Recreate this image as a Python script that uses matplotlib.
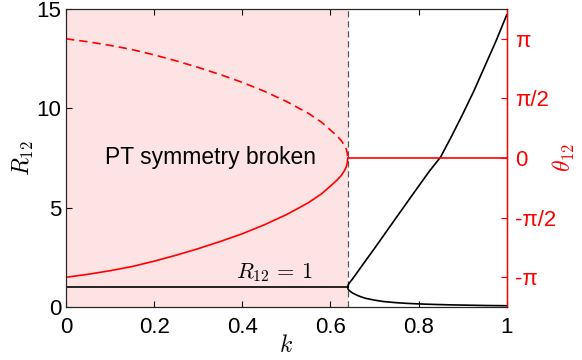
import numpy as np
import matplotlib.pyplot as plt

plt.rcParams['font.family'] = ['Liberation Sans', 'DejaVu Sans']
plt.rcParams['mathtext.fontset'] = 'cm'

# Data
k_c = 0.639

# phase branches (units of pi) in the broken region
k_theta = [0.0, 0.05, 0.1, 0.15, 0.2, 0.25, 0.3, 0.35, 0.4, 0.45, 0.5,
           0.55, 0.58, 0.6, 0.615, 0.625, 0.632, 0.636, 0.638, 0.6395]
theta_hi = [1.0, 0.975, 0.945, 0.91, 0.865, 0.815, 0.76, 0.70, 0.635, 0.56, 0.475,
            0.375, 0.30, 0.235, 0.185, 0.145, 0.105, 0.075, 0.045, 0.0]
theta_lo = [-1.0, -0.975, -0.945, -0.91, -0.865, -0.815, -0.76, -0.70, -0.635, -0.56, -0.475,
            -0.375, -0.30, -0.235, -0.185, -0.145, -0.105, -0.075, -0.045, 0.0]
k_theta_flat = [0.6395, 1.0]
theta_flat = [0.0, 0.0]

# amplitude ratio
k_r1 = [0.0, 0.6395]
r_one = [1.0, 1.0]
k_r = [0.6395, 0.6398, 0.640, 0.642, 0.645, 0.65, 0.66, 0.67, 0.68, 0.70, 0.72, 0.75,
       0.775, 0.80, 0.825, 0.85, 0.875, 0.90, 0.925, 0.95, 0.975, 1.0]
r_up = [1.0, 1.06, 1.1, 1.18, 1.27, 1.41, 1.72, 2.03, 2.34, 2.95, 3.58, 4.52,
        5.3, 6.08, 6.85, 7.55, 8.6, 9.7, 10.85, 12.1, 13.35, 14.7]
r_dn = [1.0, 0.95, 0.91, 0.85, 0.79, 0.71, 0.6, 0.51, 0.44, 0.35, 0.28, 0.22,
        0.185, 0.16, 0.14, 0.125, 0.11, 0.1, 0.09, 0.08, 0.074, 0.068]

fig = plt.figure(figsize=(5.82, 3.6), dpi=100)
ax = fig.add_axes([0.1134, 0.147, 0.7572, 0.828])
ax2 = ax.twinx()

ax.axvspan(0, k_c, color='#fde3e4', lw=0, zorder=0)
ax.axvline(k_c, color='#555555', ls=(0, (5, 3)), lw=0.9)

ax.plot(k_r1, r_one, color='black', lw=1.2)
ax.plot(k_r, r_up, color='black', lw=1.2)
ax.plot(k_r, r_dn, color='black', lw=1.2)

ax2.plot(k_theta, np.array(theta_lo) * np.pi, color='red', lw=1.2)
ax2.plot(k_theta, np.array(theta_hi) * np.pi, color='red', lw=1.2, ls=(0, (5, 3)))
ax2.plot(k_theta_flat, np.array(theta_flat) * np.pi, color='red', lw=1.2)

ax.set_xlim(0, 1)
ax.set_ylim(0, 15)
ax.set_xticks([0, 0.2, 0.4, 0.6, 0.8, 1])
ax.set_xticklabels(['0', '0.2', '0.4', '0.6', '0.8', '1'])
ax.set_yticks([0, 5, 10, 15])
ax.tick_params(direction='in', labelsize=16, top=True, length=4, width=0.8)
ax.tick_params(axis='x', pad=7)
ax.set_xlabel('$k$', fontsize=17, labelpad=-2)
ax.set_ylabel('$R_{12}$', fontsize=17, labelpad=0)

ax2.set_ylim(-1.25 * np.pi, 1.25 * np.pi)
ax2.set_yticks([-np.pi, -np.pi / 2, 0, np.pi / 2, np.pi])
ax2.set_yticklabels(['-π', '-π/2', '0', 'π/2', 'π'])
ax2.tick_params(axis='y', direction='in', colors='red', labelsize=16, length=4, width=0.8, pad=6)
ax2.set_ylabel(r'$\theta_{12}$', color='red', fontsize=17, labelpad=-4)
ax2.spines['right'].set_color('red')

for a in (ax, ax2):
    for s in ('left', 'top', 'bottom'):
        a.spines[s].set_color('#262626')
        a.spines[s].set_linewidth(0.8)
ax2.spines['right'].set_linewidth(1.0)

ax.text(0.327, 7.55, 'PT symmetry broken', fontsize=16.5, ha='center', va='center')
ax.text(0.474, 1.75, r'$R_{12}\,=\,1$', fontsize=16, ha='center', va='center')

fig.savefig('out.png', dpi=100)
